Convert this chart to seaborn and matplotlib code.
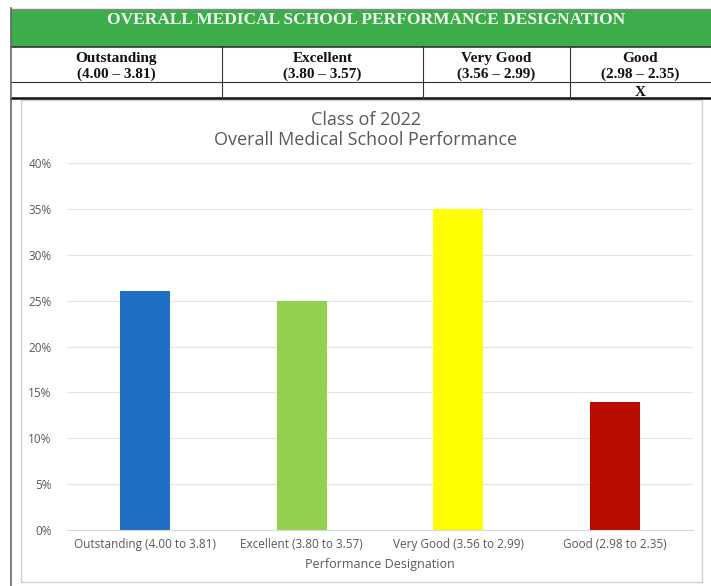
import matplotlib
matplotlib.use("Agg")
import matplotlib.pyplot as plt
import seaborn as sns
import pandas as pd
from matplotlib.patches import Rectangle

# chart data
categories = ['Outstanding (4.00 to 3.81)', 'Excellent (3.80 to 3.57)',
              'Very Good (3.56 to 2.99)', 'Good (2.98 to 2.35)']
percent = [26, 25, 35, 14]
bar_colors = ['#1F6FC4', '#92D050', '#FFFF00', '#B80C00']

# table above the chart
table_title = 'OVERALL MEDICAL SCHOOL PERFORMANCE DESIGNATION'
table_names = ['Outstanding', 'Excellent', 'Very Good', 'Good']
table_ranges = ['(4.00 – 3.81)', '(3.80 – 3.57)', '(3.56 – 2.99)', '(2.98 – 2.35)']
table_marks = ['', '', '', 'X']

W, H = 711, 586
fig = plt.figure(figsize=(W / 100, H / 100), dpi=100)
fig.patch.set_facecolor('white')

# overlay in pixel coordinates for the table and frame
ov = fig.add_axes([0, 0, 1, 1])
ov.set_xlim(0, W)
ov.set_ylim(H, 0)
ov.axis('off')

ov.add_patch(Rectangle((11, 9), W - 11, 38, facecolor='#3CAD4A', edgecolor='none'))
ov.plot([11, W], [8.5, 8.5], color='#888888', lw=1)
ov.text(366, 24, table_title, color='#F4FFF4', ha='center', va='baseline',
        fontsize=12.5, fontweight='bold', family='Liberation Serif')
ov.plot([11, W], [47, 47], color='#333333', lw=1.2)
ov.plot([11, W], [82, 82], color='#333333', lw=0.8)
ov.plot([11, W], [98, 98], color='#111111', lw=1.8)
ov.plot([10.5, 10.5], [8, H], color='#666666', lw=1.2)

col_edges = [11, 222, 423, 570, W]
for xe in col_edges[1:-1]:
    ov.plot([xe, xe], [47, 98], color='#333333', lw=0.8)
for i in range(4):
    cx = (col_edges[i] + col_edges[i + 1]) / 2
    ov.text(cx, 62, table_names[i], ha='center', va='baseline', fontsize=11,
            fontweight='bold', family='Liberation Serif', color='#111111')
    ov.text(cx, 78, table_ranges[i], ha='center', va='baseline', fontsize=11,
            fontweight='bold', family='Liberation Serif', color='#111111')
    if table_marks[i]:
        ov.text(cx, 95.5, table_marks[i], ha='center', va='baseline', fontsize=11,
                fontweight='bold', family='Liberation Serif', color='#111111')

# chart frame
ov.add_patch(Rectangle((21, 100), 681, 482, facecolor='none', edgecolor='#D0D0D0', lw=1))

# bar chart
ax = fig.add_axes([67 / W, 1 - 530 / H, (693 - 67) / W, (530 - 163) / H])
df = pd.DataFrame({'cat': categories, 'pct': percent})
sns.barplot(data=df, x='cat', y='pct', hue='cat', palette=bar_colors,
            width=0.32, saturation=1, legend=False, ax=ax)
ax.set_ylim(0, 40)
ax.set_yticks(range(0, 41, 5))
ax.set_yticklabels([f'{v}%' for v in range(0, 41, 5)])
ax.grid(axis='y', color='#E3E3E3', lw=0.8)
ax.set_axisbelow(True)
for s in ['top', 'right', 'left']:
    ax.spines[s].set_visible(False)
ax.spines['bottom'].set_color('#D9D9D9')
ax.tick_params(axis='both', length=0, colors='#595959')
ax.tick_params(axis='y', labelsize=8.5, pad=11)
ax.tick_params(axis='x', labelsize=8.5, pad=13)
for lab in ax.get_xticklabels():
    lab.set_family('Open Sans')
    lab.set_va('baseline')
for lab in ax.get_yticklabels():
    lab.set_family('Open Sans')
ax.set_xlabel('Performance Designation', fontsize=9, color='#595959',
              family='Open Sans', labelpad=5)
ax.set_ylabel('')
ax.set_facecolor('none')

fig.text(366 / W, 1 - 120 / H, 'Class of 2022', ha='center', va='center',
         fontsize=13, color='#595959', family='Open Sans')
fig.text(366 / W, 1 - 140 / H, 'Overall Medical School Performance', ha='center',
         va='center', fontsize=13, color='#595959', family='Open Sans')

fig.savefig('out.png', dpi=100)
